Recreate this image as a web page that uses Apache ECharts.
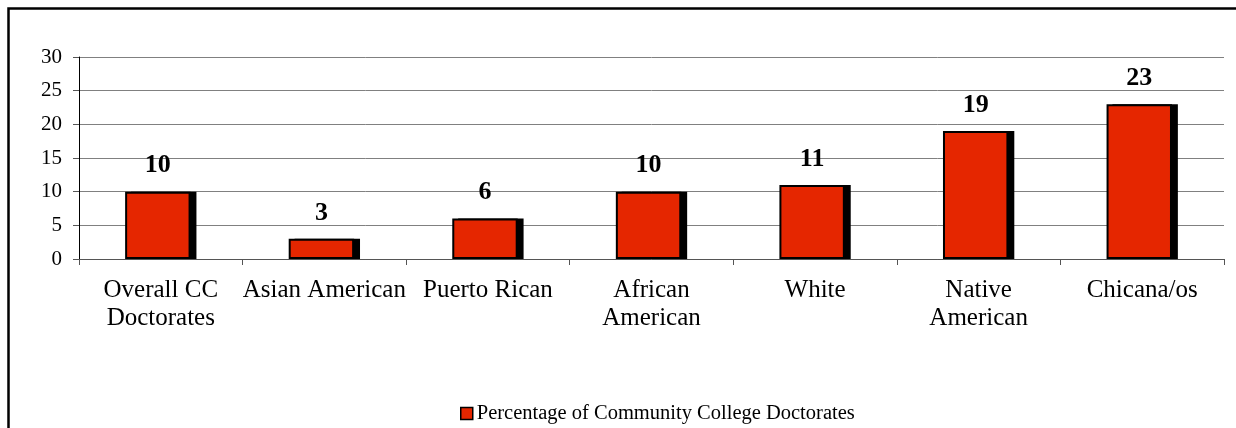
<!DOCTYPE html>
<html>
<head>
<meta charset="utf-8">
<script src="https://cdn.jsdelivr.net/npm/echarts@6/dist/echarts.min.js"></script>
<style>
  html, body { margin: 0; padding: 0; background: #fff; }
  #main { width: 1236px; height: 428px; }
</style>
</head>
<body>
<div id="main"></div>
<script>
var categories = ['Overall CC\nDoctorates', 'Asian American', 'Puerto Rican', 'African\nAmerican', 'White', 'Native\nAmerican', 'Chicana/os'];
var percentages = [10, 3, 6, 10, 11, 19, 23];
var seriesName = 'Percentage of Community College Doctorates';
var yTicks = { min: 0, max: 30, interval: 5 };

var chart = echarts.init(document.getElementById('main'));
var font = 'Liberation Serif, Times New Roman, serif';

var option = {
	backgroundColor: '#fff',
	animation: false,
	textStyle: { fontFamily: font },
	graphic: [{
		type: 'rect',
		shape: { x: 8.5, y: 8.5, width: 1260, height: 460 },
		style: { fill: 'none', stroke: '#000', lineWidth: 2.5 },
		silent: true
	}],
	grid: { left: 79, right: 12, top: 57, bottom: 169 },
	legend: {
		left: 455,
		top: 398,
		itemWidth: 12,
		itemHeight: 12,
		itemGap: 4,
		icon: 'rect',
		textStyle: { fontFamily: font, fontSize: 20.5, color: '#000', padding: [3, 0, 0, -1] },
		itemStyle: { borderColor: '#000', borderWidth: 1.5 },
		data: [seriesName]
	},
	xAxis: {
		type: 'category',
		data: categories,
		axisLine: { lineStyle: { color: '#555', width: 1 } },
		axisTick: { show: true, length: 6, lineStyle: { color: '#555' } },
		axisLabel: {
			interval: 0,
			margin: 17,
			fontFamily: font,
			fontSize: 25,
			lineHeight: 28,
			color: '#000'
		},
		splitLine: { show: false }
	},
	yAxis: {
		type: 'value',
		min: yTicks.min,
		max: yTicks.max,
		interval: yTicks.interval,
		axisLine: { show: true, lineStyle: { color: '#000', width: 1 } },
		axisTick: { show: true, length: 6, lineStyle: { color: '#555' } },
		axisLabel: { margin: 17, fontFamily: font, fontSize: 21, color: '#000' },
		splitLine: { lineStyle: { color: '#808080', width: 1 } }
	},
	series: [{
		name: seriesName,
		type: 'bar',
		data: percentages,
		barWidth: '40%',
		barGap: '-91%',
		z: 3,
		itemStyle: {
			color: '#E52600',
			borderColor: '#000',
			borderWidth: 2
		},
		label: {
			show: true,
			position: 'top',
			distance: 13,
			fontFamily: font,
			fontWeight: 'bold',
			fontSize: 26,
			color: '#000'
		}
	}, {
		name: 'shadow',
		type: 'bar',
		data: percentages,
		barWidth: '40%',
		z: 1,
		silent: true,
		itemStyle: { color: '#000' }
	}]
};
chart.setOption(option);
</script>
</body>
</html>
